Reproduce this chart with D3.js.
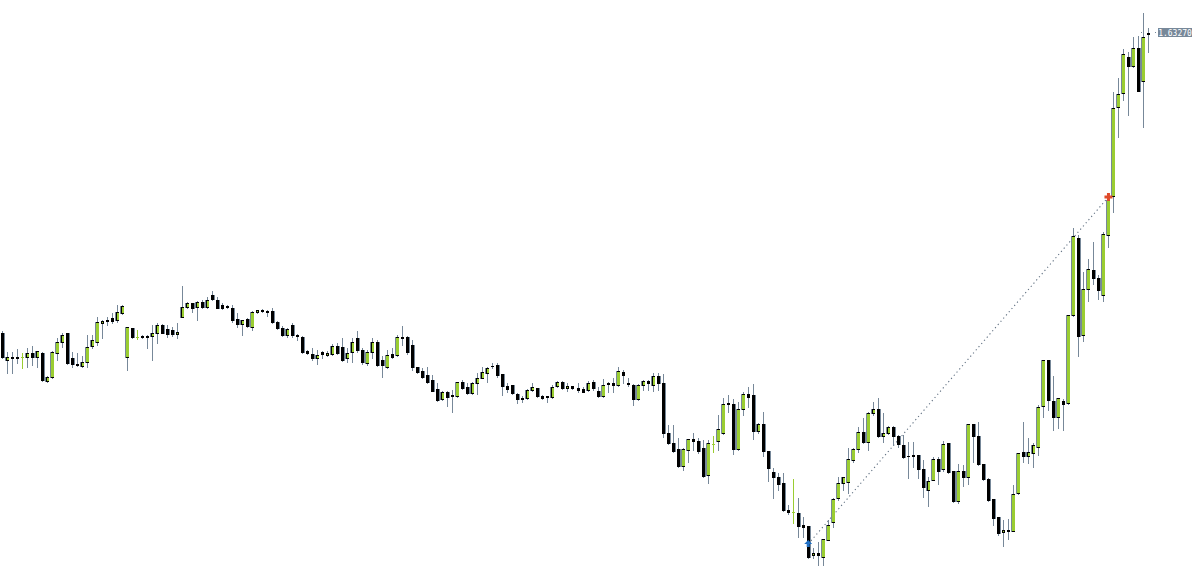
<!DOCTYPE html>
<html><head><meta charset="utf-8">
<script src="https://cdn.jsdelivr.net/npm/d3@7"></script>
<style>html,body{margin:0;padding:0;background:#fff;overflow:hidden}</style>
</head><body><svg id="c" width="1200" height="586"></svg>
<script>
const opens=[
1.6027,1.6000,1.6002,1.6003,1.6003,1.6003,1.6007,1.6003,1.6007,1.5979,
1.5983,1.6007,1.6018,1.6027,1.6002,1.5996,1.5994,1.5998,1.6014,1.6018,
1.6037,1.6040,1.6042,1.6040,1.6047,1.6003,1.6032,1.6023,1.6024,1.6024,
1.6024,1.6027,1.6035,1.6031,1.6030,1.6026,1.6043,1.6053,1.6057,1.6053,
1.6058,1.6053,1.6065,1.6060,1.6055,1.6054,1.6052,1.6041,1.6036,1.6041,
1.6033,1.6048,1.6050,1.6049,1.6049,1.6038,1.6032,1.6025,1.6035,1.6025,
1.6023,1.6009,1.6006,1.6002,1.6008,1.6005,1.6006,1.6014,1.6013,1.6002,
1.6008,1.6022,1.6010,1.5997,1.6008,1.6018,1.6000,1.5993,1.6006,1.6005,
1.6022,1.6023,1.6015,1.5993,1.5989,1.5985,1.5980,1.5971,1.5961,1.5968,
1.5964,1.5964,1.5978,1.5973,1.5967,1.5977,1.5982,1.5987,1.5994,1.5995,
1.5986,1.5974,1.5975,1.5966,1.5961,1.5962,1.5970,1.5972,1.5964,1.59635,
1.5963,1.5974,1.5978,1.5972,1.5974,1.5972,1.5971,1.5970,1.5978,1.5969,
1.5964,1.5976,1.5977,1.5975,1.5988,1.5977,1.5975,1.5961,1.5975,1.5979,
1.5975,1.5984,1.5977,1.5927,1.5917,1.5911,1.5894,1.5910,1.5921,1.5919,
1.5912,1.5885,1.5916,1.5919,1.5927,1.5957,1.5956,1.5911,1.5951,1.5966,
1.5965,1.5929,1.5936,1.5909,1.5888,1.5883,1.5877,1.5850,1.5848,1.5847,
1.5835,1.5834,1.5805,1.5807,1.5803,1.5820,1.5838,1.5862,1.5877,1.5878,
1.5900,1.5911,1.5928,1.5918,1.5947,1.5951,1.5924,1.5927,1.5933,1.5924,
1.5915,1.5904,1.5905,1.5905,1.5891,1.5870,1.5880,1.5901,1.5891,1.5917,
1.5889,1.5859,1.5889,1.5883,1.5936,1.5924,1.5896,1.5881,1.5861,1.5843,
1.5828,1.5830,1.5829,1.5867,1.5908,1.5904,1.5907,1.5913,1.5954,1.6000,
1.5959,1.5943,1.5959,1.5957,1.6045,1.6122,1.6025,1.6071,1.6090,1.6082,
1.6065,1.6125,1.6164,1.6253,1.6267,1.6303,1.6294,1.6312,1.6279,1.6326];
const highs=[
1.6029,1.6008,1.6008,1.6011,1.6007,1.6012,1.6014,1.6009,1.6008,1.5984,
1.6009,1.6022,1.6027,1.6027,1.6008,1.6007,1.6004,1.6025,1.6025,1.6043,
1.6040,1.6043,1.6047,1.6055,1.6055,1.6033,1.6032,1.6030,1.6025,1.6025,
1.6035,1.6037,1.6036,1.6035,1.6033,1.6037,1.6074,1.6058,1.6057,1.6059,
1.6060,1.6063,1.6069,1.6063,1.6057,1.6055,1.6055,1.6047,1.6040,1.6042,
1.6049,1.6050,1.6051,1.6050,1.6052,1.6039,1.6034,1.6032,1.6037,1.6026,
1.6024,1.6010,1.6012,1.6010,1.6009,1.6009,1.6016,1.6017,1.6022,1.6012,
1.6022,1.6029,1.6012,1.6010,1.6022,1.6020,1.6004,1.6010,1.6012,1.6025,
1.6034,1.6024,1.6020,1.5993,1.5992,1.5993,1.5985,1.5977,1.5969,1.5969,
1.5970,1.5978,1.5980,1.5977,1.5978,1.5987,1.5993,1.5993,1.5997,1.5997,
1.5986,1.5977,1.5975,1.5967,1.5964,1.5971,1.5977,1.5972,1.5965,1.5964,
1.5975,1.5979,1.5979,1.5977,1.5974,1.5977,1.5973,1.5979,1.5980,1.5973,
1.5981,1.5978,1.5982,1.5993,1.5990,1.5982,1.5976,1.5976,1.5980,1.5980,
1.5987,1.5987,1.5986,1.5935,1.5935,1.5922,1.5912,1.5921,1.5927,1.5922,
1.5920,1.5920,1.5924,1.5945,1.5962,1.5965,1.5961,1.5958,1.5968,1.5973,
1.5976,1.5937,1.5948,1.5909,1.5892,1.5887,1.5887,1.5855,1.5881,1.5862,
1.5843,1.5834,1.5812,1.5818,1.5821,1.5840,1.5862,1.5883,1.5883,1.5912,
1.5912,1.5933,1.5942,1.5948,1.5958,1.5962,1.5947,1.5934,1.5934,1.5925,
1.5925,1.5918,1.5918,1.5905,1.5900,1.5883,1.5903,1.5903,1.5919,1.5917,
1.5889,1.5896,1.5895,1.5936,1.5936,1.5938,1.5896,1.5882,1.5861,1.5843,
1.5840,1.5841,1.5875,1.5907,1.5938,1.5922,1.5917,1.5955,1.6000,1.6000,
1.5984,1.5962,1.5961,1.6045,1.6132,1.6125,1.6088,1.6101,1.6118,1.6085,
1.6128,1.6165,1.6268,1.6282,1.6311,1.6308,1.6323,1.6324,1.6347,1.6332];
const lows=[
1.6002,1.5987,1.5987,1.5997,1.5992,1.5993,1.5995,1.5993,1.5979,1.5978,
1.5982,1.6000,1.6013,1.5996,1.5993,1.5994,1.5993,1.5993,1.6012,1.6015,
1.6022,1.6035,1.6037,1.6038,1.6046,1.5990,1.6022,1.6021,1.6022,1.6012,
1.6000,1.6017,1.6027,1.6023,1.6024,1.6022,1.6043,1.6052,1.6048,1.6040,
1.6052,1.6052,1.6060,1.6052,1.6051,1.6052,1.6038,1.6033,1.6025,1.6033,
1.6030,1.6047,1.6048,1.6044,1.6037,1.6031,1.6024,1.6023,1.6023,1.6020,
1.6007,1.6006,1.6000,1.5996,1.6002,1.6004,1.6005,1.6006,1.5999,1.5998,
1.5998,1.6008,1.5996,1.5995,1.6002,1.5994,1.5983,1.5992,1.6002,1.6004,
1.6015,1.6006,1.5990,1.5987,1.5982,1.5977,1.5969,1.5959,1.5960,1.5954,
1.5948,1.5963,1.5971,1.5966,1.5966,1.5966,1.5982,1.5978,1.5992,1.5983,
1.5965,1.5968,1.5966,1.5957,1.5958,1.5961,1.5969,1.5963,1.5961,1.5958,
1.5962,1.5973,1.5971,1.5969,1.5971,1.5968,1.5968,1.5969,1.5970,1.5963,
1.5963,1.5968,1.5968,1.5974,1.5977,1.5974,1.5955,1.5960,1.5970,1.5970,
1.5969,1.5970,1.5923,1.5916,1.5908,1.5893,1.5890,1.5898,1.5910,1.5907,
1.5883,1.5877,1.5908,1.5910,1.5926,1.5948,1.5906,1.5910,1.5945,1.5953,
1.5921,1.5927,1.5904,1.5879,1.5862,1.5870,1.5849,1.5846,1.5837,1.5823,
1.5823,1.5802,1.5802,1.5795,1.5795,1.5820,1.5833,1.5860,1.5870,1.5867,
1.5898,1.5908,1.5917,1.5910,1.5945,1.5923,1.5918,1.5926,1.5915,1.5913,
1.5902,1.5882,1.5893,1.5882,1.5863,1.5854,1.5880,1.5876,1.5889,1.5887,
1.5858,1.5857,1.5874,1.5876,1.5898,1.5895,1.5880,1.5859,1.5835,1.5825,
1.5814,1.5821,1.5829,1.5866,1.5898,1.5897,1.5893,1.5905,1.5943,1.5950,
1.5930,1.5932,1.5930,1.5956,1.6044,1.6004,1.6019,1.6059,1.6076,1.6061,
1.6059,1.6113,1.6148,1.6223,1.6260,1.6245,1.6293,1.6269,1.6233,1.6308];
const closes=[
1.6003,1.6003,1.6003,1.6002,1.6003,1.6007,1.6003,1.6009,1.5980,1.5983,
1.6008,1.6018,1.6025,1.5997,1.5996,1.5995,1.5998,1.6013,1.6020,1.6038,
1.6039,1.6039,1.6039,1.6048,1.6054,1.6033,1.6023,1.6023,1.6023,1.6023,
1.6027,1.6035,1.6027,1.6026,1.6026,1.6028,1.6053,1.6057,1.6052,1.6058,
1.6053,1.6060,1.6061,1.6052,1.6052,1.6053,1.6040,1.6036,1.6040,1.6034,
1.6048,1.6050,1.6049,1.6048,1.6038,1.6032,1.6025,1.6031,1.6025,1.6024,
1.6008,1.6007,1.6002,1.6005,1.6006,1.6007,1.6014,1.6007,1.6000,1.6007,
1.6018,1.6010,1.5998,1.6008,1.6018,1.5995,1.5995,1.6005,1.6003,1.6023,
1.6023,1.6008,1.5993,1.5988,1.5983,1.5978,1.5969,1.5960,1.5968,1.5963,
1.5965,1.5978,1.5972,1.5967,1.5977,1.5982,1.5988,1.5992,1.59935,1.5985,
1.5974,1.5971,1.5967,1.5961,1.5962,1.5970,1.5973,1.5964,1.5962,1.59625,
1.5973,1.5978,1.5972,1.5974,1.5972,1.5970,1.5968,1.5977,1.5972,1.5964,
1.5975,1.5977,1.5975,1.5989,1.5985,1.5976,1.5961,1.5975,1.5979,1.5977,
1.5984,1.5977,1.5927,1.5917,1.5909,1.5894,1.5911,1.5921,1.5919,1.5909,
1.5884,1.5917,1.5916,1.5931,1.5956,1.5956,1.5911,1.5951,1.5966,1.5963,
1.5929,1.5936,1.5909,1.5892,1.5883,1.5876,1.5850,1.5848,1.5848,1.5834,
1.5833,1.5803,1.5807,1.5805,1.5821,1.5835,1.5861,1.5877,1.5883,1.5901,
1.5911,1.5928,1.5918,1.5947,1.5951,1.5924,1.5927,1.5933,1.5924,1.5916,
1.5903,1.59035,1.5904,1.5891,1.5873,1.5879,1.5901,1.5889,1.5916,1.5888,
1.5859,1.5889,1.5883,1.5936,1.5924,1.5896,1.5881,1.5860,1.5842,1.5827,
1.5830,1.5829,1.5866,1.5907,1.5904,1.5908,1.5915,1.5953,1.6000,1.5960,
1.5943,1.5962,1.5956,1.6045,1.6124,1.6024,1.6071,1.6091,1.6082,1.6070,
1.6126,1.6160,1.6252,1.6266,1.6306,1.6294,1.6312,1.6269,1.6323,1.6327];
const lastPriceLabel="1.63270";
const tradeOpen={index:161,price:1.5816};
const tradeClose={index:221,price:1.6163};

const svg=d3.select("#c");
const x=d3.scaleLinear().domain([0,opens.length-1]).range([2.5,1148.5]);
const y=d3.scaleLinear().domain([1.5774,1.6360]).range([586,0]);
const WICK="#778899",BULL="#9ACD32",BEAR="#000000";
const data=opens.map((o,i)=>({i,o,h:highs[i],l:lows[i],c:closes[i]}));

// trade line
svg.append("line")
  .attr("x1",x(tradeOpen.index)).attr("y1",y(tradeOpen.price))
  .attr("x2",x(tradeClose.index)).attr("y2",y(tradeClose.price))
  .attr("stroke","#5f6f80").attr("stroke-width",1.1).attr("stroke-dasharray","1.2,3");

const g=svg.append("g").attr("shape-rendering","crispEdges");
function r(xx,yy,w,h,f){g.append("rect").attr("x",xx).attr("y",yy).attr("width",w).attr("height",Math.max(1,h)).attr("fill",f);}
data.forEach(d=>{
  const cx=Math.floor(x(d.i));
  const yh=Math.round(y(d.h)), yl=Math.round(y(d.l));
  const doji=d.o===d.c;
  r(cx,yh,1,yl-yh+1,doji?BULL:WICK);
  const top=Math.round(y(Math.max(d.o,d.c))), bot=Math.round(y(Math.min(d.o,d.c)));
  const h=Math.max(1,bot-top+1);
  if(doji){
    r(cx-1,top,3,1,BULL);
  } else if(d.c>d.o){
    if(h<=3){
      r(cx-1,top,3,h,BEAR);
      if(h===3) r(cx,top+1,1,1,BULL);
    } else {
      r(cx-2,top,1,h,WICK);
      r(cx-1,top,3,h,BULL);
      r(cx-1,top,3,1,BEAR);
      r(cx-1,top+h-1,3,1,BEAR);
      if(h<12){ r(cx-1,top,1,h,BEAR); }
    }
  } else {
    if(h>4) r(cx+2,top,1,h,WICK);
    r(cx-1,top,3,h,BEAR);
  }
});

// trade arrows
const bx=x(tradeOpen.index), by=y(tradeOpen.price);
svg.append("path")
  .attr("d",`M${bx},${by-4} L${bx+4},${by} L${bx+1.5},${by} L${bx+1.5},${by+3} L${bx-1.5},${by+3} L${bx-1.5},${by} L${bx-4},${by} Z`)
  .attr("fill","#1F6FC5");
const rx=x(tradeClose.index), ry=y(tradeClose.price);
svg.append("path")
  .attr("d",`M${rx-1.5},${ry-4} h3 v2.5 h2.5 v3 h-2.5 v2.5 h-3 v-2.5 h-2.5 v-3 h2.5 Z`)
  .attr("fill","#E04A2A");

// last price marker
const ly=Math.round(y(closes[closes.length-1]));
svg.append("line").attr("x1",1141).attr("x2",1157).attr("y1",ly-0.5).attr("y2",ly-0.5)
  .attr("stroke",WICK).attr("stroke-dasharray","1,13");
svg.append("rect").attr("x",1158).attr("y",ly-5).attr("width",34).attr("height",9).attr("fill",WICK)
  .attr("shape-rendering","crispEdges");
svg.append("text").attr("x",1175).attr("y",ly+2.5).attr("text-anchor","middle")
  .attr("font-family","DejaVu Sans Mono, monospace").attr("font-size",8).attr("fill","#fff")
  .text(lastPriceLabel);
</script></body></html>
